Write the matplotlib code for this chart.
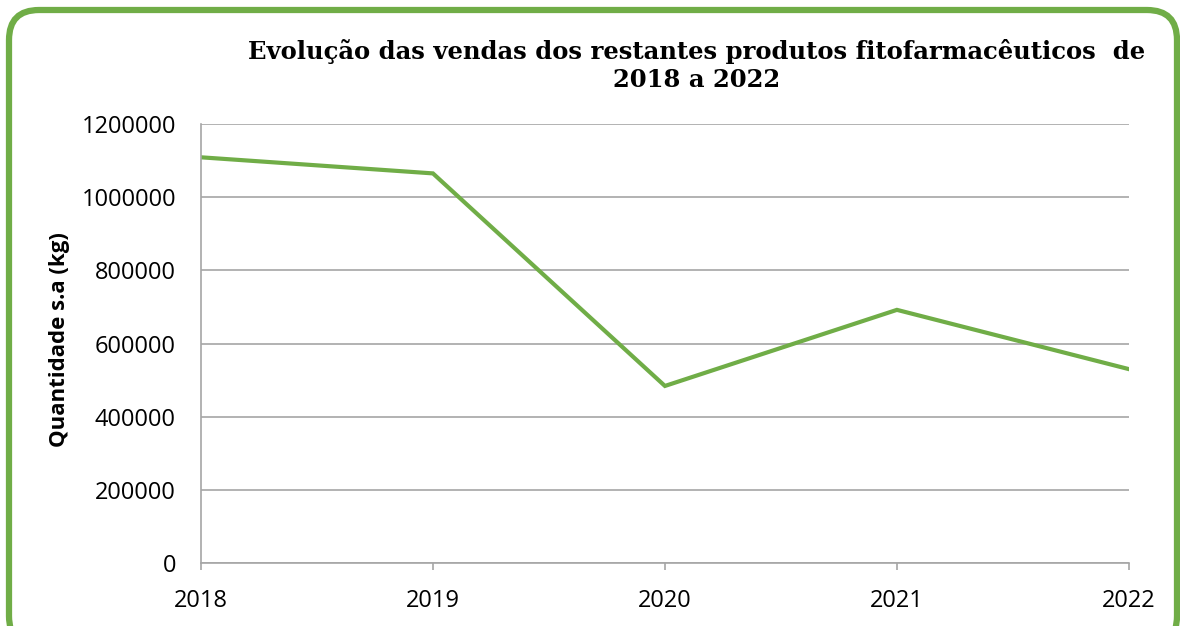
import matplotlib.pyplot as plt
from matplotlib.patches import FancyBboxPatch
from matplotlib.transforms import IdentityTransform

# Chart data.
years = ["2018", "2019", "2020", "2021", "2022"]
quantities = [1109000, 1065000, 484000, 692000, 530000]
y_ticks = [0, 200000, 400000, 600000, 800000, 1000000, 1200000]

green = "#70AD47"
grid_grey = "#A6A6A6"

fig = plt.figure(figsize=(11.8, 6.26), dpi=100)
ax = fig.add_axes([0.1703, 0.1006, 0.7864, 0.7013])

# Rounded green frame around the whole chart, in pixels (bottom runs off the picture).
frame = FancyBboxPatch((9, -20), 1168, 636,
                       boxstyle="round,pad=0,rounding_size=30",
                       transform=IdentityTransform(), facecolor="none",
                       edgecolor=green, linewidth=4.5, clip_on=False)
fig.patches.append(frame)

x = list(range(len(years)))
ax.plot(x, quantities, color=green, linewidth=3, solid_joinstyle="miter")

ax.set_xlim(0, len(years) - 1)
ax.set_ylim(0, 1200000)
ax.set_xticks(x)
ax.set_xticklabels(years)
ax.set_yticks(y_ticks)
ax.set_yticklabels([str(v) for v in y_ticks])

ax.grid(axis="y", color=grid_grey, linewidth=1.2)
ax.set_axisbelow(True)
for side in ["top", "right"]:
    ax.spines[side].set_visible(False)
for side in ["left", "bottom"]:
    ax.spines[side].set_color(grid_grey)
    ax.spines[side].set_linewidth(1.2)

ax.tick_params(axis="x", direction="out", length=5, width=1.2, color=grid_grey,
               pad=14, labelsize=17)
ax.tick_params(axis="y", length=0, pad=18, labelsize=17)
for lbl in ax.get_xticklabels() + ax.get_yticklabels():
    lbl.set_fontfamily("Open Sans")

ax.set_ylabel("Quantidade s.a (kg)", fontfamily="Open Sans", fontweight="bold",
              fontsize=16, va="center")
ax.yaxis.set_label_coords(-0.152, 0.508)

fig.text(0.5907, 0.896,
         "Evolução das vendas dos restantes produtos fitofarmacêuticos  de\n2018 a 2022",
         ha="center", va="center", multialignment="center",
         fontfamily="DejaVu Serif", fontweight="bold", fontsize=17.5,
         linespacing=1.2)

fig.savefig("out.png", dpi=100)
